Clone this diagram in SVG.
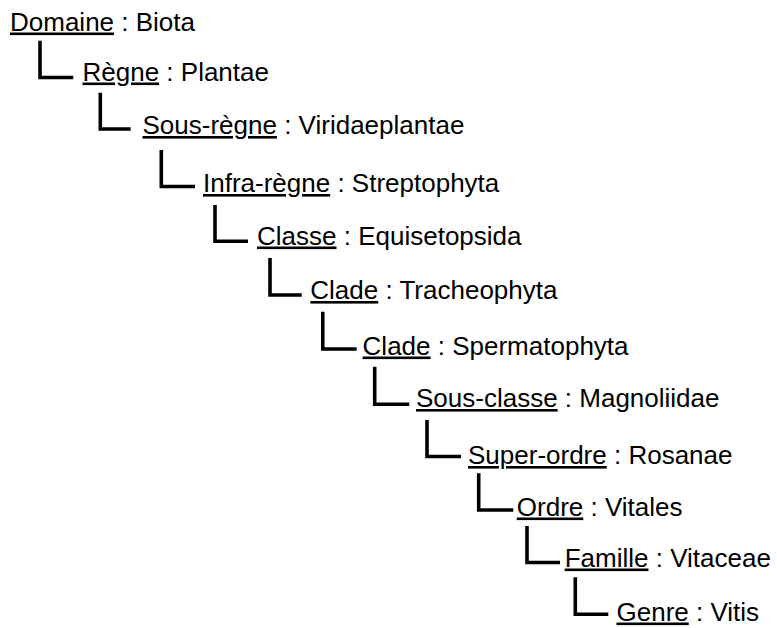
<svg xmlns="http://www.w3.org/2000/svg" width="777" height="628" viewBox="0 0 777 628">
<style>
text { font-family: "Liberation Sans", Arial, sans-serif; font-size: 26px; fill: #000; }
.rank { text-decoration: underline; }
.conn { fill: none; stroke: #000; stroke-width: 3.6; stroke-linecap: butt; stroke-linejoin: miter; }
</style>
<rect width="777" height="628" fill="#fff"/>
<g id="connectors">
<path class="conn" d="M40 40.7 V77.5 H73.3"/>
<path class="conn" d="M100.3 92.7 V129 H130.7"/>
<path class="conn" d="M161.3 150 V186.5 H195"/>
<path class="conn" d="M215 205 V241.2 H248"/>
<path class="conn" d="M270 258 V295 H301.7"/>
<path class="conn" d="M322.8 311.7 V349 H356.7"/>
<path class="conn" d="M374.7 366.7 V404.2 H409.3"/>
<path class="conn" d="M427 420 V456.5 H461"/>
<path class="conn" d="M478.7 473.3 V510 H513.3"/>
<path class="conn" d="M527 526 V562.5 H560"/>
<path class="conn" d="M575.3 577.3 V614.2 H608.3"/>
</g>
<g id="domaine"><text x="10" y="30.5"><tspan class="rank">Domaine</tspan> : Biota</text></g>
<g id="regne"><text x="82.5" y="80.5"><tspan class="rank">Règne</tspan> : Plantae</text></g>
<g id="sous-regne"><text x="142.5" y="134"><tspan class="rank">Sous-règne</tspan> : Viridaeplantae</text></g>
<g id="infra-regne"><text x="203" y="192"><tspan class="rank">Infra-règne</tspan> : Streptophyta</text></g>
<g id="classe"><text x="257" y="244.5"><tspan class="rank">Classe</tspan> : Equisetopsida</text></g>
<g id="clade1"><text x="310.3" y="299"><tspan class="rank">Clade</tspan> : Tracheophyta</text></g>
<g id="clade2"><text x="362.6" y="354.5"><tspan class="rank">Clade</tspan> : Spermatophyta</text></g>
<g id="sous-classe"><text x="416" y="407"><tspan class="rank">Sous-classe</tspan> : Magnoliidae</text></g>
<g id="super-ordre"><text x="468" y="464"><tspan class="rank">Super-ordre</tspan> : Rosanae</text></g>
<g id="ordre"><text x="516.8" y="515.5"><tspan class="rank">Ordre</tspan> : Vitales</text></g>
<g id="famille"><text x="564.7" y="566.5"><tspan class="rank">Famille</tspan> : Vitaceae</text></g>
<g id="genre"><text x="616.5" y="620.5"><tspan class="rank">Genre</tspan> : Vitis</text></g>
</svg>
